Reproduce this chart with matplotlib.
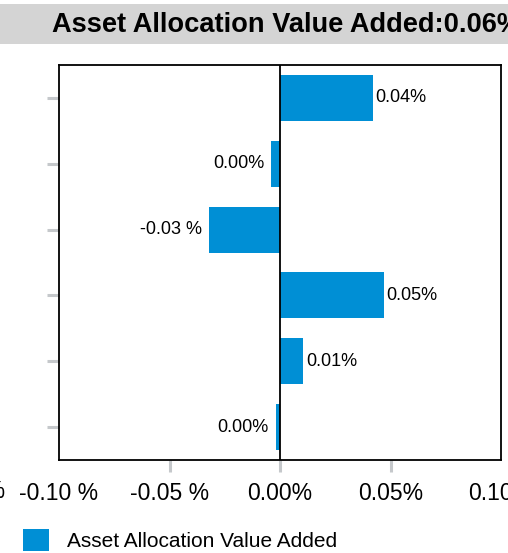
import matplotlib
matplotlib.use("Agg")
from matplotlib import pyplot as plt
from matplotlib.patches import Rectangle

plt.rcParams['font.family'] = ['Liberation Sans', 'DejaVu Sans']

# data (percent units), top bar first
values = [0.042, -0.004, -0.032, 0.047, 0.0105, -0.002]
bar_labels = ["0.04%", "0.00%", "-0.03 %", "0.05%", "0.01%", "0.00%"]
x_ticks = [-0.10, -0.05, 0.00, 0.05, 0.10]
x_tick_labels = ["-0.10 %", "-0.05 %", "0.00%", "0.05%", "0.10%"]
title = "Asset Allocation Value Added:0.06%"
series_name = "Asset Allocation Value Added"

blue = "#008fd5"
tick_gray = "#c5c8cb"

fig = plt.figure(figsize=(5.08, 5.53), dpi=100)
W, H = 508, 553

# grey title band
fig.patches.append(Rectangle((0, 1 - 44 / H), 1, 40 / H, transform=fig.transFigure,
                             facecolor="#d4d4d4", edgecolor="none", zorder=0))
fig.text(52 / W, 1 - 25 / H, title, fontsize=19.6, fontweight="bold",
         ha="left", va="center")

ax = fig.add_axes([59 / W, 1 - 460 / H, (501 - 59) / W, (460 - 65) / H])
pos = list(range(len(values)))
bars = ax.barh(pos, values, height=0.7, color=blue, label=series_name, zorder=2)

for i, (v, lbl) in enumerate(zip(values, bar_labels)):
    if v >= 0:
        ax.annotate(lbl, (v, i), xytext=(2, 0), textcoords="offset points",
                    ha="left", va="center", fontsize=13)
    else:
        ax.annotate(lbl, (v, i), xytext=(-5, 0), textcoords="offset points",
                    ha="right", va="center", fontsize=13)

ax.axvline(0, color="black", linewidth=1.3, zorder=3)
ax.set_xlim(-0.10, 0.10)
ax.set_ylim(len(values) - 0.5, -0.5)

ax.set_xticks(x_ticks)
ax.set_xticklabels(x_tick_labels, fontsize=16.5)
ax.set_yticks(pos)
ax.set_yticklabels([])
ax.tick_params(axis="both", direction="out", length=8.6, width=2.2, color=tick_gray)
ax.tick_params(axis="x", pad=7)
for t in (ax.xaxis.get_major_ticks()[0], ax.xaxis.get_major_ticks()[-1]):
    t.tick1line.set_visible(False)

# the next tick label to the left is only partly in view in the original
fig.text(5 / W, 1 - 492 / H, "-0.15 %", fontsize=16.5, ha="right", va="center")

for s in ax.spines.values():
    s.set_linewidth(1.3)
    s.set_color("black")

fig.legend(handles=[bars], loc="center left", bbox_to_anchor=(23 / W, 1 - 540 / H),
           frameon=False, fontsize=15, handlelength=1.25, handleheight=1.25,
           handletextpad=0.85, borderpad=0, borderaxespad=0)

fig.savefig("out.png", dpi=100)
